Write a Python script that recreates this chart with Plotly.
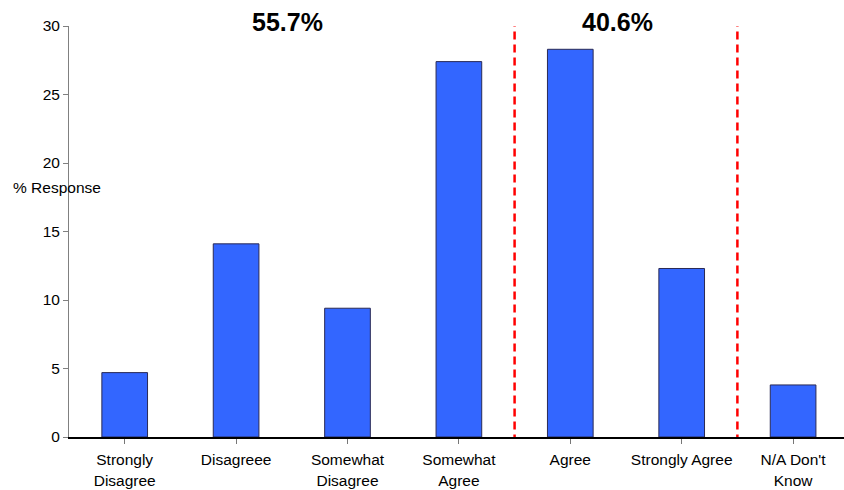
import plotly.graph_objects as go

# Survey responses (% of respondents) per answer category
categories = [
    "Strongly<br>Disagree",
    "Disagreee",
    "Somewhat<br>Disagree",
    "Somewhat<br>Agree",
    "Agree",
    "Strongly Agree",
    "N/A Don't<br>Know",
]
responses = [4.7, 14.1, 9.4, 27.4, 28.3, 12.3, 3.8]

# Group totals shown above the chart
group_labels = ["55.7%", "40.6%"]
group_label_x = [1.46, 4.42]          # category-axis positions of the labels
divider_x = [3.5, 5.5]                # boundaries between answer groups

y_ticks = [0, 5, 10, 15, 20, 25, 30]

FONT = "Liberation Sans, Arial, sans-serif"

fig = go.Figure()
fig.add_trace(go.Bar(
    x=list(range(len(categories))),
    y=responses,
    width=0.41,
    marker=dict(color="#3366FF", line=dict(color="#2A2A55", width=1)),
    hoverinfo="x+y",
))

# Dashed red separators between disagree / agree / no-answer groups
for xv in divider_x:
    fig.add_shape(type="line", xref="x", yref="y",
                  x0=xv, x1=xv, y0=-0.4, y1=30,
                  line=dict(color="#FF0000", width=2.5, dash="8px,5px"))

for txt, xv in zip(group_labels, group_label_x):
    fig.add_annotation(text=f"<b>{txt}</b>", x=xv, xref="x",
                       y=1.01, yref="paper", yanchor="middle",
                       showarrow=False,
                       font=dict(family=FONT, size=25, color="#000000"))

fig.add_annotation(text="% Response", xref="paper", yref="paper",
                   x=-0.015, y=(437 - 188) / 411, xanchor="center",
                   yanchor="middle", showarrow=False,
                   font=dict(family=FONT, size=15.5, color="#000000"))

fig.update_layout(
    width=844, height=490,
    margin=dict(l=69, r=0, t=26, b=53),
    paper_bgcolor="white", plot_bgcolor="white",
    showlegend=False,
    font=dict(family=FONT, size=15, color="#000000"),
    xaxis=dict(
        tickmode="array",
        tickvals=list(range(len(categories))),
        ticktext=categories,
        range=[-0.5, 6.457],
        automargin=False,
        showgrid=False, zeroline=False,
        showline=True, linecolor="#000000", linewidth=1.5,
        ticks="outside", ticklen=5, tickcolor="#777777",
        tickson="boundaries",
        ticklabelstandoff=3,
        tickfont=dict(family=FONT, size=15.5, color="#000000"),
    ),
    yaxis=dict(
        range=[0, 30],
        tickvals=y_ticks,
        automargin=False,
        showgrid=False, zeroline=False,
        showline=True, linecolor="#808080", linewidth=1,
        ticks="outside", ticklen=5, tickcolor="#808080",
        tickfont=dict(family=FONT, size=15.5, color="#000000"),
    ),
)

fig.write_html("out.html")
